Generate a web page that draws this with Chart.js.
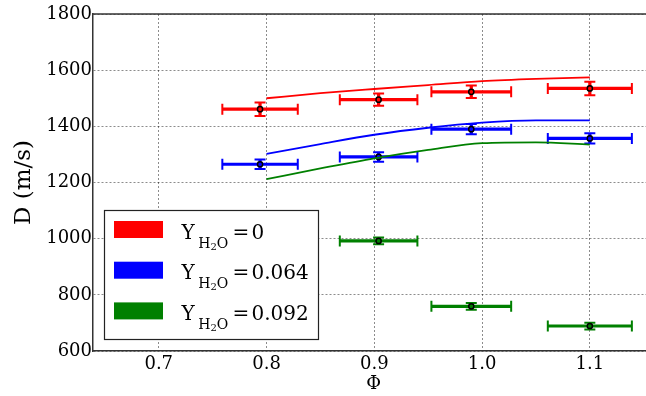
<!DOCTYPE html>
<html>
<head>
<meta charset="utf-8">
<script src="https://cdn.jsdelivr.net/npm/chart.js@4/dist/chart.umd.min.js"></script>
<style>
  body { margin: 0; overflow: hidden; background: #fff; }
  canvas { position: absolute; left: 0; top: 0; }
</style>
</head>
<body>
<canvas id="detChart" width="660" height="396"></canvas>
<script>
// measured points (equivalence ratio, detonation speed)
const phi = [0.794, 0.904, 0.99, 1.1];
const phiErr = [0.035, 0.036, 0.037, 0.039];

const dRed = [1461, 1495, 1523, 1535];
const dRedErr = [24, 22, 22, 24];
const dBlue = [1265, 1291, 1390, 1357];
const dBlueErr = [17, 17, 18, 18];
const phiGreen = [0.904, 0.99, 1.1];
const phiGreenErr = [0.036, 0.037, 0.039];
const dGreen = [992, 759, 689];
const dGreenErr = [12, 12, 12];

// computed curves
const simPhi = [0.80, 0.85, 0.90, 0.95, 1.00, 1.05, 1.10];
const simRed = [1500, 1518, 1533, 1547, 1561, 1569, 1574];
const simBlue = [1302, 1337, 1370, 1395, 1413, 1421, 1421];
const simGreen = [1212, 1250, 1286, 1316, 1340, 1343, 1335];

const xTicks = [0.7, 0.8, 0.9, 1.0, 1.1];
const yTicks = [600, 800, 1000, 1200, 1400, 1600, 1800];
const legendValues = ['0', '0.064', '0.092'];

const RED = '#ff0000', BLUE = '#0000ff', GREEN = '#008000';
const SERIF = '"DejaVu Serif", serif';

function pts(xs, ys) {
  return xs.map((x, i) => ({ x: x, y: ys[i] }));
}

function lineSet(xs, ys, color) {
  return {
    type: 'line',
    data: pts(xs, ys),
    borderColor: color,
    borderWidth: 1.8,
    pointRadius: 0,
    tension: 0.4,
    cubicInterpolationMode: 'monotone',
    fill: false
  };
}

function pointSet(xs, ys, xe, ye, color) {
  return {
    type: 'scatter',
    data: pts(xs, ys),
    xErr: xe,
    yErr: ye,
    errColor: color,
    backgroundColor: color,
    borderColor: '#000',
    borderWidth: 1.5,
    pointRadius: 2.6
  };
}

// horizontal + vertical error bars with caps
const errorBars = {
  id: 'errorBars',
  beforeDatasetsDraw(chart) {
    const ctx = chart.ctx;
    const xs = chart.scales.x, ys = chart.scales.y;
    ctx.save();
    chart.data.datasets.forEach(ds => {
      if (!ds.xErr) return;
      ctx.strokeStyle = ds.errColor;
      ds.data.forEach((p, i) => {
        const px = xs.getPixelForValue(p.x);
        const py = ys.getPixelForValue(p.y);
        const x0 = xs.getPixelForValue(p.x - ds.xErr[i]);
        const x1 = xs.getPixelForValue(p.x + ds.xErr[i]);
        const y0 = ys.getPixelForValue(p.y - ds.yErr[i]);
        const y1 = ys.getPixelForValue(p.y + ds.yErr[i]);
        ctx.lineWidth = 3.2;
        ctx.beginPath();
        ctx.moveTo(x0, py); ctx.lineTo(x1, py);
        ctx.moveTo(px, y0); ctx.lineTo(px, y1);
        ctx.stroke();
        ctx.lineWidth = 2;
        ctx.beginPath();
        ctx.moveTo(x0, py - 5.5); ctx.lineTo(x0, py + 5.5);
        ctx.moveTo(x1, py - 5.5); ctx.lineTo(x1, py + 5.5);
        ctx.moveTo(px - 5.5, y0); ctx.lineTo(px + 5.5, y0);
        ctx.moveTo(px - 5.5, y1); ctx.lineTo(px + 5.5, y1);
        ctx.stroke();
      });
    });
    ctx.restore();
  }
};

// top frame line and custom legend with subscripts
const frameAndLegend = {
  id: 'frameAndLegend',
  afterDraw(chart) {
    const ctx = chart.ctx;
    const a = chart.chartArea;
    ctx.save();
    ctx.strokeStyle = '#333';
    ctx.lineWidth = 1.5;
    ctx.beginPath();
    ctx.moveTo(a.left, a.top); ctx.lineTo(a.right, a.top);
    ctx.stroke();

    const bx = 104.5, by = 210.5, bw = 214, bh = 129;
    ctx.fillStyle = '#fff';
    ctx.fillRect(bx, by, bw, bh);
    ctx.strokeStyle = '#222';
    ctx.lineWidth = 1.2;
    ctx.strokeRect(bx, by, bw, bh);

    const colors = [RED, BLUE, GREEN];
    ctx.textBaseline = 'alphabetic';
    legendValues.forEach((v, i) => {
      const base = 238.5 + i * 40.7;
      ctx.fillStyle = colors[i];
      ctx.fillRect(114, base - 17.5, 49, 17);
      ctx.fillStyle = '#000';
      ctx.font = '20px ' + SERIF;
      ctx.fillText('Y', 181.5, base);
      let x = 198.3;
      ctx.font = '14px ' + SERIF;
      ctx.fillText('H', x, base + 9);
      x += ctx.measureText('H').width;
      ctx.font = '10px ' + SERIF;
      ctx.fillText('2', x, base + 11);
      x += ctx.measureText('2').width;
      ctx.font = '14px ' + SERIF;
      ctx.fillText('O', x, base + 9);
      ctx.font = '20px ' + SERIF;
      ctx.fillText('=', 232.5, base);
      ctx.fillText(v, 251.5, base);
    });
    ctx.restore();
  }
};

new Chart(document.getElementById('detChart'), {
  type: 'scatter',
  data: {
    datasets: [
      lineSet(simPhi, simRed, RED),
      lineSet(simPhi, simBlue, BLUE),
      lineSet(simPhi, simGreen, GREEN),
      pointSet(phi, dRed, phiErr, dRedErr, RED),
      pointSet(phi, dBlue, phiErr, dBlueErr, BLUE),
      pointSet(phiGreen, dGreen, phiGreenErr, dGreenErr, GREEN)
    ]
  },
  options: {
    responsive: false,
    animation: false,
    devicePixelRatio: 1,
    layout: { padding: { left: 0, top: 14, right: 0, bottom: 0 } },
    plugins: { legend: { display: false }, tooltip: { enabled: false } },
    scales: {
      x: {
        type: 'linear',
        min: 0.639,
        max: 1.16,
        afterBuildTicks: s => { s.ticks = xTicks.map(v => ({ value: v })); },
        afterFit: s => { s.height = 45; },
        ticks: {
          color: '#000',
          font: { family: SERIF, size: 18 },
          padding: 3,
          maxRotation: 0,
          callback: v => v.toFixed(1)
        },
        grid: { color: 'rgba(0,0,0,0.45)', tickLength: 0, drawTicks: false },
        border: { display: true, color: '#333', width: 1.5, dash: [2, 2] },
        title: {
          display: true,
          text: 'Φ',
          color: '#000',
          font: { family: SERIF, size: 18 },
          padding: { top: 0, bottom: 1 }
        }
      },
      y: {
        min: 600,
        max: 1800,
        afterBuildTicks: s => { s.ticks = yTicks.map(v => ({ value: v })); },
        afterFit: s => { s.width = 93; },
        ticks: {
          color: '#000',
          font: { family: SERIF, size: 18 },
          padding: 1,
          callback: v => String(v)
        },
        grid: { color: 'rgba(0,0,0,0.45)', tickLength: 0, drawTicks: false },
        border: { display: true, color: '#333', width: 1.5, dash: [2, 2] },
        title: {
          display: true,
          text: 'D (m/s)',
          color: '#000',
          font: { family: SERIF, size: 23 },
          padding: { top: 10, bottom: 0 }
        }
      }
    }
  },
  plugins: [errorBars, frameAndLegend]
});
</script>
</body>
</html>
